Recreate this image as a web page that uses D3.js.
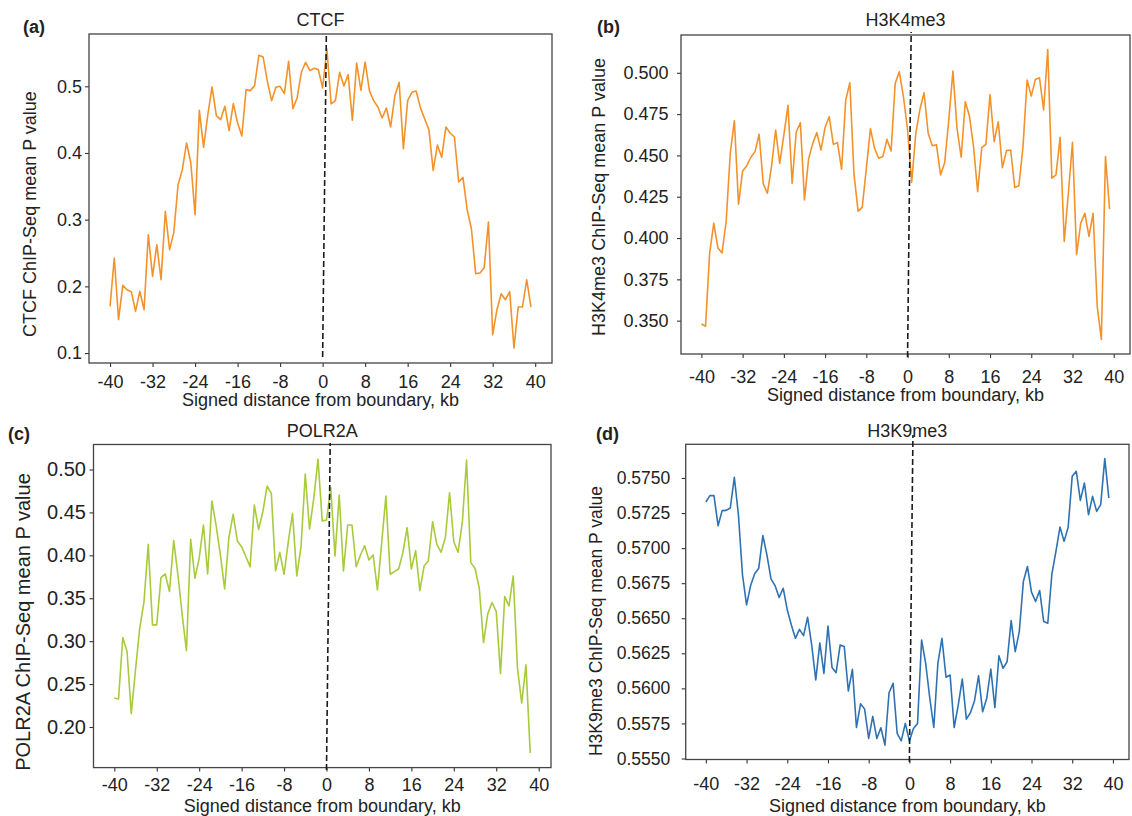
<!DOCTYPE html>
<html>
<head>
<meta charset="utf-8">
<script src="https://cdnjs.cloudflare.com/ajax/libs/d3/7.8.5/d3.min.js"></script>
<style>
body { margin: 0; background: #fff; }
svg { font-family: "Liberation Sans", Arial, sans-serif; }
</style>
</head>
<body>
<svg id="fig" width="1132" height="816"></svg>
<script>
// bin centres, kb from the boundary
var distanceKb = [-40, -39.2, -38.4, -37.6, -36.8, -36, -35.2, -34.4, -33.6, -32.8,
    -32, -31.2, -30.4, -29.6, -28.8, -28, -27.2, -26.4, -25.6, -24.8,
    -24, -23.2, -22.4, -21.6, -20.8, -20, -19.2, -18.4, -17.6, -16.8,
    -16, -15.2, -14.4, -13.6, -12.8, -12, -11.2, -10.4, -9.6, -8.8,
    -8, -7.2, -6.4, -5.6, -4.8, -4, -3.2, -2.4, -1.6, -0.8,
    0, 0.8, 1.6, 2.4, 3.2, 4, 4.8, 5.6, 6.4, 7.2,
    8, 8.8, 9.6, 10.4, 11.2, 12, 12.8, 13.6, 14.4, 15.2,
    16, 16.8, 17.6, 18.4, 19.2, 20, 20.8, 21.6, 22.4, 23.2,
    24, 24.8, 25.6, 26.4, 27.2, 28, 28.8, 29.6, 30.4, 31.2,
    32, 32.8, 33.6, 34.4, 35.2, 36, 36.8, 37.6, 38.4, 39.2];

var ctcf = [0.170, 0.2425, 0.150, 0.2015, 0.195, 0.192, 0.1625, 0.1925, 0.165, 0.2775,
    0.215, 0.2625, 0.210, 0.3125, 0.255, 0.281, 0.3525, 0.375, 0.415, 0.385,
    0.3075, 0.464, 0.4085, 0.4575, 0.499, 0.456, 0.450, 0.470, 0.4335, 0.474,
    0.445, 0.4255, 0.495, 0.4935, 0.501, 0.5465, 0.544, 0.5075, 0.4785, 0.4985,
    0.500, 0.489, 0.5375, 0.4665, 0.4825, 0.521, 0.536, 0.5235, 0.527, 0.525,
    0.4975, 0.556, 0.4735, 0.4785, 0.521, 0.5005, 0.5175, 0.449, 0.535, 0.494,
    0.5365, 0.4935, 0.4785, 0.469, 0.4525, 0.4675, 0.439, 0.486, 0.506, 0.4065,
    0.4785, 0.491, 0.493, 0.468, 0.451, 0.435, 0.374, 0.412, 0.3935, 0.439,
    0.430, 0.424, 0.3565, 0.3635, 0.315, 0.286, 0.219, 0.220, 0.228, 0.2965,
    0.1275, 0.165, 0.189, 0.180, 0.192, 0.1075, 0.169, 0.169, 0.210, 0.169];

var h3k4me3 = [0.348, 0.3466, 0.391, 0.409, 0.394, 0.391, 0.410, 0.4513, 0.471, 0.4205,
    0.4406, 0.4438, 0.4489, 0.4523, 0.4628, 0.4328, 0.4271, 0.4432, 0.4654, 0.4452,
    0.4624, 0.4803, 0.4332, 0.4642, 0.4698, 0.4231, 0.4479, 0.4573, 0.4638, 0.4533,
    0.467, 0.4734, 0.4567, 0.4577, 0.4416, 0.4835, 0.494, 0.4388, 0.4163, 0.4185,
    0.442, 0.4662, 0.4543, 0.4483, 0.4493, 0.4597, 0.4527, 0.4936, 0.5006, 0.4855,
    0.4654, 0.4338, 0.4634, 0.4779, 0.4879, 0.4634, 0.4559, 0.4565, 0.4382, 0.4456,
    0.4714, 0.501, 0.4664, 0.4489, 0.4825, 0.4738, 0.4553, 0.4281, 0.4547, 0.4567,
    0.4869, 0.4583, 0.4704, 0.4426, 0.4529, 0.4533, 0.4306, 0.4316, 0.4553, 0.4956,
    0.4859, 0.496, 0.497, 0.4775, 0.5141, 0.4362, 0.4382, 0.461, 0.3979, 0.4271,
    0.4579, 0.3899, 0.409, 0.415, 0.401, 0.415, 0.3587, 0.3386, 0.4493, 0.4175];

var polr2a = [0.2337, 0.2326, 0.3043, 0.288, 0.2155, 0.2667, 0.3151, 0.3461, 0.4128, 0.319,
    0.319, 0.374, 0.3783, 0.3578, 0.4171, 0.3771, 0.3306, 0.2888, 0.4186, 0.3733,
    0.3965, 0.4353, 0.3783, 0.4632, 0.4345, 0.4004, 0.3609, 0.4205, 0.4477, 0.4167,
    0.4101, 0.3984, 0.3868, 0.4585, 0.4302, 0.4508, 0.4806, 0.4721, 0.3818, 0.4035,
    0.3779, 0.4159, 0.4488, 0.376, 0.4101, 0.4946, 0.4306, 0.4663, 0.512, 0.4399,
    0.4411, 0.4787, 0.3992, 0.4702, 0.3818, 0.4353, 0.4353, 0.3868, 0.4004, 0.4112,
    0.3946, 0.4004, 0.3597, 0.4143, 0.469, 0.3779, 0.381, 0.3841, 0.4031, 0.4322,
    0.3841, 0.4054, 0.3589, 0.3876, 0.3934, 0.4391, 0.4128, 0.4035, 0.4205, 0.4729,
    0.4159, 0.4035, 0.438, 0.5109, 0.3915, 0.3849, 0.3616, 0.2984, 0.3318, 0.345,
    0.3345, 0.262, 0.3519, 0.3411, 0.376, 0.2686, 0.2279, 0.2725, 0.1698];

var h3k9me3 = [0.57329, 0.57374, 0.57374, 0.5716, 0.57267, 0.57269, 0.57286, 0.57505, 0.57238, 0.5681,
    0.56595, 0.56733, 0.56817, 0.56857, 0.5709, 0.56952, 0.56781, 0.56733, 0.56648, 0.56714,
    0.5656, 0.56452, 0.56357, 0.56421, 0.56376, 0.56507, 0.5631, 0.5606, 0.56324, 0.56107,
    0.56445, 0.56148, 0.56112, 0.5631, 0.56298, 0.55981, 0.56136, 0.55721, 0.5589, 0.55852,
    0.55643, 0.558, 0.55643, 0.55719, 0.55595, 0.55969, 0.56036, 0.55679, 0.55626, 0.5575,
    0.55624, 0.55714, 0.5575, 0.56345, 0.56179, 0.55933, 0.55721, 0.56179, 0.56357, 0.56079,
    0.56095, 0.55721, 0.55881, 0.56067, 0.55781, 0.55826, 0.55912, 0.5609, 0.55833, 0.55929,
    0.56138, 0.55862, 0.56233, 0.56143, 0.5619, 0.56483, 0.56262, 0.56405, 0.56762, 0.56869,
    0.56686, 0.56619, 0.56698, 0.56476, 0.56464, 0.56814, 0.56976, 0.5715, 0.57048, 0.57148,
    0.57512, 0.57548, 0.5734, 0.57464, 0.57238, 0.57369, 0.57262, 0.5731, 0.57638, 0.57357];

var xTicks = [-40, -32, -24, -16, -8, 0, 8, 16, 24, 32, 40];
var ctcfTicks = [0.1, 0.2, 0.3, 0.4, 0.5];
var h3k4me3Ticks = [0.350, 0.375, 0.400, 0.425, 0.450, 0.475, 0.500];
var polr2aTicks = [0.20, 0.25, 0.30, 0.35, 0.40, 0.45, 0.50];
var h3k9me3Ticks = [0.5550, 0.5575, 0.5600, 0.5625, 0.5650, 0.5675, 0.5700, 0.5725, 0.5750];

// dashed boundary marker leans slightly to the right at the top
var boundaryBottom = 0, boundaryTop = 0.7;

var panels = [
    { tag: "(a)", title: "CTCF", values: ctcf, ticks: ctcfTicks, fmt: ".1f", color: "#f4922a",
      left: 89, top: 34, right: 552, bottom: 363, xPad: 8, yPad: 3, yFont: 18,
      ylab: "CTCF ChIP-Seq mean P value", ylabX: 36, ylabY: 214,
      tagX: 23, tagY: 33, titleY: 26, xlabY: 406, dashTop: 34, dashBottom: 357 },
    { tag: "(b)", title: "H3K4me3", values: h3k4me3, ticks: h3k4me3Ticks, fmt: ".3f", color: "#f4922a",
      left: 681, top: 35, right: 1130, bottom: 354, xPad: 12, yPad: 8.5, yFont: 18,
      ylab: "H3K4me3 ChIP-Seq mean P value", ylabX: 605, ylabY: 197,
      tagX: 597, tagY: 33, titleY: 26, xlabY: 401, dashTop: 32, dashBottom: 357 },
    { tag: "(c)", title: "POLR2A", values: polr2a, ticks: polr2aTicks, fmt: ".2f", color: "#a8cb3b",
      left: 93.5, top: 444.5, right: 551, bottom: 767.6, xPad: 7, yPad: 3.5, yFont: 20,
      ylab: "POLR2A ChIP-Seq mean P value", ylabX: 30, ylabY: 622,
      tagX: 8, tagY: 440, titleY: 437, xlabY: 812, dashTop: 443, dashBottom: 770 },
    { tag: "(d)", title: "H3K9me3", values: h3k9me3, ticks: h3k9me3Ticks, fmt: ".4f", color: "#2f72b3",
      left: 685.7, top: 444.3, right: 1129, bottom: 759.5, xPad: 13.5, yPad: 11.5, yFont: 17.5,
      ylab: "H3K9me3 ChIP-Seq mean P value", ylabX: 602, ylabY: 621,
      tagX: 596, tagY: 440, titleY: 437, xlabY: 812, dashTop: 435, dashBottom: 762 }
];

var svg = d3.select("#fig");

// matplotlib style auto limits: data extent plus 5% each side
function padded(ext) {
    var m = (ext[1] - ext[0]) * 0.05;
    return [ext[0] - m, ext[1] + m];
}

panels.forEach(function (p) {
    var pts = p.values.map(function (v, i) { return { d: distanceKb[i], v: v }; });

    var x = d3.scaleLinear()
        .domain(padded(d3.extent(pts, function (d) { return d.d; })))
        .range([p.left, p.right]);

    var y = d3.scaleLinear()
        .domain(padded(d3.extent(pts, function (d) { return d.v; })))
        .range([p.bottom, p.top]);

    var g = svg.append("g");

    // plain hyphen for negatives, as in the original figure
    var xAxis = g.append("g")
        .attr("transform", "translate(0," + p.bottom + ")")
        .call(d3.axisBottom(x).tickValues(xTicks).tickFormat(function (d) { return String(d); })
            .tickSize(4).tickPadding(p.xPad));

    var yAxis = g.append("g")
        .attr("transform", "translate(" + p.left + ",0)")
        .call(d3.axisLeft(y).tickValues(p.ticks).tickFormat(d3.format(p.fmt))
            .tickSize(4).tickPadding(p.yPad));

    [xAxis, yAxis].forEach(function (a) {
        a.attr("font-family", null).attr("font-size", 18);
        a.select(".domain").remove();
        a.selectAll(".tick line").attr("stroke", "#333").attr("stroke-width", 1.1);
        a.selectAll(".tick text").attr("fill", "#222");
    });
    yAxis.attr("font-size", p.yFont);

    // frame
    g.append("rect")
        .attr("x", p.left)
        .attr("y", p.top)
        .attr("width", p.right - p.left)
        .attr("height", p.bottom - p.top)
        .attr("fill", "none")
        .attr("stroke", "#444")
        .attr("stroke-width", 1.3);

    var line = d3.line()
        .x(function (d) { return x(d.d); })
        .y(function (d) { return y(d.v); });

    g.append("path")
        .datum(pts)
        .attr("d", line)
        .attr("fill", "none")
        .attr("stroke", p.color)
        .attr("stroke-width", 1.6)
        .attr("stroke-linejoin", "round");

    g.append("line")
        .attr("x1", x(boundaryBottom))
        .attr("x2", x(boundaryTop))
        .attr("y1", p.dashBottom)
        .attr("y2", p.dashTop)
        .attr("stroke", "#1a1a1a")
        .attr("stroke-width", 1.6)
        .attr("stroke-dasharray", "6,3");

    g.append("text")
        .attr("x", (p.left + p.right) / 2)
        .attr("y", p.titleY)
        .attr("text-anchor", "middle")
        .attr("font-size", 18)
        .attr("fill", "#222")
        .text(p.title);

    g.append("text")
        .attr("x", p.tagX)
        .attr("y", p.tagY)
        .attr("font-size", 18)
        .attr("font-weight", "bold")
        .attr("fill", "#222")
        .text(p.tag);

    g.append("text")
        .attr("x", (p.left + p.right) / 2)
        .attr("y", p.xlabY)
        .attr("text-anchor", "middle")
        .attr("font-size", 18)
        .attr("fill", "#222")
        .text("Signed distance from boundary, kb");

    g.append("text")
        .attr("transform", "translate(" + p.ylabX + "," + p.ylabY + ") rotate(-90)")
        .attr("text-anchor", "middle")
        .attr("font-size", p.yFont)
        .attr("fill", "#222")
        .text(p.ylab);
});
</script>
</body>
</html>
